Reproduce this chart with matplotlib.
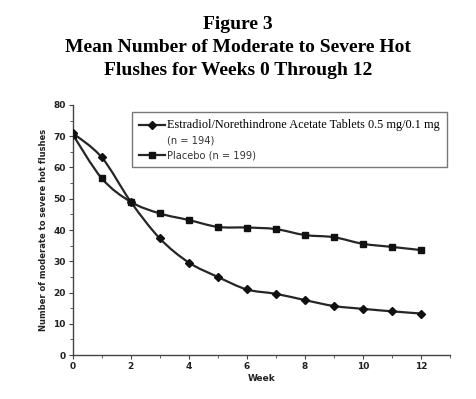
import matplotlib
matplotlib.use('Agg')
import matplotlib.pyplot as plt
from matplotlib.path import Path
from matplotlib.patches import PathPatch
from matplotlib.lines import Line2D
import numpy as np

weeks = [0, 1, 2, 3, 4, 5, 6, 7, 8, 9, 10, 11, 12]
estradiol = [71.0, 63.2, 49.0, 37.3, 29.6, 25.0, 21.0, 19.6, 17.6, 15.7, 14.8, 14.0, 13.3]
placebo = [70.5, 56.5, 49.0, 45.3, 43.2, 41.0, 40.8, 40.3, 38.4, 37.7, 35.6, 34.6, 33.6]

est_label = 'Estradiol/Norethindrone Acetate Tablets 0.5 mg/0.1 mg'
est_n = '(n = 194)'
pla_label = 'Placebo (n = 199)'
title = 'Figure 3\nMean Number of Moderate to Severe Hot\nFlushes for Weeks 0 Through 12'

line_col = '#262626'


def smooth_path(xs, ys):
  # Catmull-Rom -> bezier, like the smoothed lines of the original
  xs = np.asarray(xs, float)
  ys = np.asarray(ys, float)
  verts = [(xs[0], ys[0])]
  codes = [Path.MOVETO]
  n = len(xs)
  for i in range(n - 1):
    x0, y0 = (xs[i - 1], ys[i - 1]) if i > 0 else (xs[i], ys[i])
    x3, y3 = (xs[i + 2], ys[i + 2]) if i + 2 < n else (xs[i + 1], ys[i + 1])
    c1 = (xs[i] + (xs[i + 1] - x0) / 6.0, ys[i] + (ys[i + 1] - y0) / 6.0)
    c2 = (xs[i + 1] - (x3 - xs[i]) / 6.0, ys[i + 1] - (y3 - ys[i]) / 6.0)
    verts += [c1, c2, (xs[i + 1], ys[i + 1])]
    codes += [Path.CURVE4] * 3
  return Path(verts, codes)


fig = plt.figure(figsize=(4.76, 3.99), dpi=100)
ax = fig.add_axes([0.153, 0.110, 0.792, 0.627])

for ys, mk, ms in [(estradiol, 'D', 4.2), (placebo, 's', 4.6)]:
  ax.add_patch(PathPatch(smooth_path(weeks, ys), facecolor='none', edgecolor=line_col, lw=1.6, zorder=2))
  ax.plot(weeks, ys, linestyle='none', marker=mk, markersize=ms, color='#111111', zorder=3)

ax.set_xlim(0, 13)
ax.set_ylim(0, 80)
ax.set_xticks(range(0, 13, 2))
ax.set_xticks(range(0, 14), minor=True)
ax.set_yticks(range(0, 81, 10))
ax.set_yticks(range(0, 81, 5), minor=True)
ax.spines['top'].set_visible(False)
ax.spines['right'].set_visible(False)
for s in ['left', 'bottom']:
  ax.spines[s].set_color('#444444')
  ax.spines[s].set_linewidth(1.0)
ax.tick_params(which='major', length=3, width=0.8, color='#444444', labelsize=6.5, pad=2)
ax.tick_params(which='minor', length=2, width=0.6, color='#444444')
for t in ax.get_xticklabels() + ax.get_yticklabels():
  t.set_fontweight('bold')
  t.set_color('#222222')

ax.set_xlabel('Week', fontsize=6.5, fontweight='bold', color='#222222', labelpad=2)
ax.set_ylabel('Number of moderate to severe hot flushes', fontsize=6, fontweight='bold', color='#222222', labelpad=4)

h_est = Line2D([], [], color=line_col, lw=1.6, marker='D', markersize=4.2, markerfacecolor='#111111', markeredgecolor='#111111')
h_none = Line2D([], [], color='none')
h_pla = Line2D([], [], color=line_col, lw=1.6, marker='s', markersize=4.6, markerfacecolor='#111111', markeredgecolor='#111111')
leg = ax.legend([h_est, h_none, h_pla], [est_label, est_n, pla_label],
                loc='upper left', bbox_to_anchor=(0.157, 0.97), fontsize=7.1,
                frameon=True, fancybox=False, edgecolor='#555555', handlelength=2.6,
                handletextpad=0.25, labelspacing=0.45, borderpad=0.7, borderaxespad=0)
leg.get_frame().set_linewidth(1.0)
txts = leg.get_texts()
txts[0].set_fontfamily('Liberation Serif')
txts[0].set_fontsize(8.8)
txts[1].set_color('#333333')
txts[2].set_color('#333333')

fig.suptitle(title, x=0.5, y=0.96, fontsize=14, fontweight='bold', family='Liberation Serif', linespacing=1.48)

fig.savefig('out.png', dpi=100)
